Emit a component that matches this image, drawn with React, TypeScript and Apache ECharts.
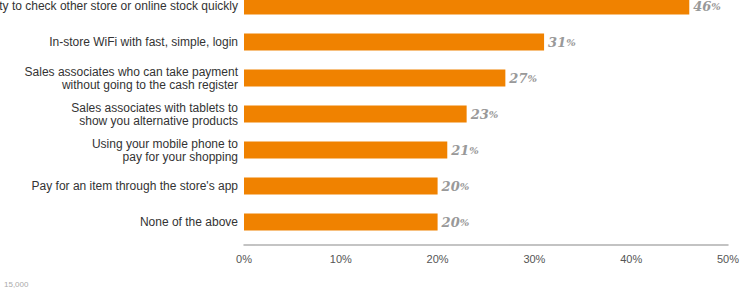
import React, { useEffect, useRef } from "react";
import * as echarts from "echarts";

const categories = [
  "Ability to check other store or online stock quickly",
  "In-store WiFi with fast, simple, login",
  "Sales associates who can take payment\nwithout going to the cash register",
  "Sales associates with tablets to\nshow you alternative products",
  "Using your mobile phone to\npay for your shopping",
  "Pay for an item through the store's app",
  "None of the above",
];
const values = [46, 31, 27, 23, 21, 20, 20];
const xTicks = { min: 0, max: 50, interval: 10 };
const footnote = "15,000";

export default function App() {
  const ref = useRef<HTMLDivElement>(null);
  useEffect(() => {
    if (!ref.current) return;
    const chart = echarts.init(ref.current, null, { renderer: "svg" });
    chart.setOption({
      animation: false,
      grid: {
        left: 244,
        right: 15,
        top: -12,
        bottom: 48,
        containLabel: false,
        outerBoundsMode: "none",
      },
      xAxis: {
        type: "value",
        min: xTicks.min,
        max: xTicks.max,
        interval: xTicks.interval,
        offset: 5,
        splitLine: { show: false },
        axisTick: { show: false },
        axisLine: { show: true, lineStyle: { color: "#b0b0b0", width: 1.5 } },
        axisLabel: {
          formatter: "{value}%",
          color: "#555",
          fontSize: 11,
          fontFamily: "Liberation Sans, Arial, sans-serif",
          margin: 8,
        },
      },
      yAxis: {
        type: "category",
        inverse: true,
        data: categories,
        axisLine: { show: false },
        axisTick: { show: false },
        axisLabel: {
          color: "#333",
          fontSize: 12,
          lineHeight: 13,
          fontFamily: "Liberation Sans, Arial, sans-serif",
          margin: 6,
          align: "right",
        },
      },
      series: [
        {
          type: "bar",
          data: values,
          barWidth: 17,
          itemStyle: { color: "#F08200" },
          label: {
            show: true,
            position: "right",
            distance: 4,
            formatter: (p: any) => `{n|${p.value}}{p|%}`,
            rich: {
              n: {
                fontFamily: "DejaVu Serif, Georgia, serif",
                fontStyle: "italic",
                fontWeight: "bold",
                fontSize: 13,
                color: "#999",
              },
              p: {
                fontFamily: "DejaVu Serif, Georgia, serif",
                fontStyle: "italic",
                fontWeight: "bold",
                fontSize: 10,
                color: "#999",
              },
            },
          },
        },
      ],
      graphic: [
        {
          type: "text",
          left: 4,
          top: 280,
          style: { text: footnote, fill: "#aaa", fontSize: 8, fontFamily: "Liberation Sans, Arial, sans-serif" },
        },
      ],
    });
    return () => chart.dispose();
  }, []);
  return (
    <div
      ref={ref}
      style={{ position: "fixed", left: 0, top: 0, width: 743, height: 288, background: "#fff" }}
    />
  );
}
